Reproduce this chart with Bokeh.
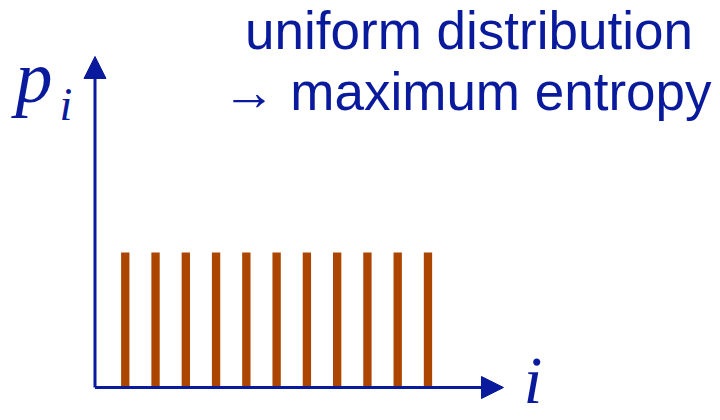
from bokeh.plotting import figure
from bokeh.models import Arrow, NormalHead, Label, Range1d
from bokeh.embed import file_html
from bokeh.resources import INLINE

# data
indices = [1, 2, 3, 4, 5, 6, 7, 8, 9, 10, 11]
probs = [0.0909, 0.0909, 0.0909, 0.0909, 0.0909, 0.0909,
         0.0909, 0.0909, 0.0909, 0.0909, 0.0909]
title_lines = ["uniform distribution", "\u2192 maximum entropy"]
y_label = "p"
y_sub = "i"
x_label = "i"

BLUE = "#0A1A9C"
BAR = "#AB4500"

W, H = 720, 420
p = figure(width=W, height=H, output_backend="svg", toolbar_location=None,
           x_range=Range1d(-3.122, 20.664), y_range=Range1d(-0.02222, 0.26061),
           min_border=0)
p.axis.visible = False
p.grid.visible = False
p.outline_line_color = None
p.background_fill_color = "white"
p.border_fill_color = "white"

p.vbar(x=indices, top=probs, bottom=0, width=0.275, fill_color=BAR, line_color=None)

# axes with arrow heads
p.add_layout(Arrow(end=NormalHead(size=22, fill_color=BLUE, line_color=BLUE, line_width=1),
                   x_start=0, y_start=0, x_end=13.495, y_end=0,
                   line_color=BLUE, line_width=3))
p.add_layout(Arrow(end=NormalHead(size=22, fill_color=BLUE, line_color=BLUE, line_width=1),
                   x_start=0, y_start=0, x_end=0, y_end=0.2229,
                   line_color=BLUE, line_width=3))

# title lines
p.add_layout(Label(x=12.355, y=0.2404, text=title_lines[0], text_align="center",
                   text_baseline="alphabetic", text_font="Liberation Sans",
                   text_font_size="53px", text_color=BLUE))
p.add_layout(Label(x=20.367, y=0.1993, text=title_lines[1], text_align="right",
                   text_baseline="alphabetic", text_font="Liberation Sans",
                   text_font_size="53px", text_color=BLUE))

# axis labels
p.add_layout(Label(x=-2.626, y=0.2088, text=y_label, text_align="left",
                   text_baseline="alphabetic", text_font="Liberation Serif",
                   text_font_style="italic", text_font_size="74px", text_color=BLUE))
p.add_layout(Label(x=-1.173, y=0.1909, text=y_sub, text_align="left",
                   text_baseline="alphabetic", text_font="Liberation Serif",
                   text_font_style="italic", text_font_size="46px", text_color=BLUE))
p.add_layout(Label(x=14.156, y=0.0050, text=x_label, text_align="left",
                   text_baseline="alphabetic", text_font="Liberation Serif",
                   text_font_style="italic", text_font_size="68px", text_color=BLUE))

open("out.html", "w").write(file_html(p, INLINE))
